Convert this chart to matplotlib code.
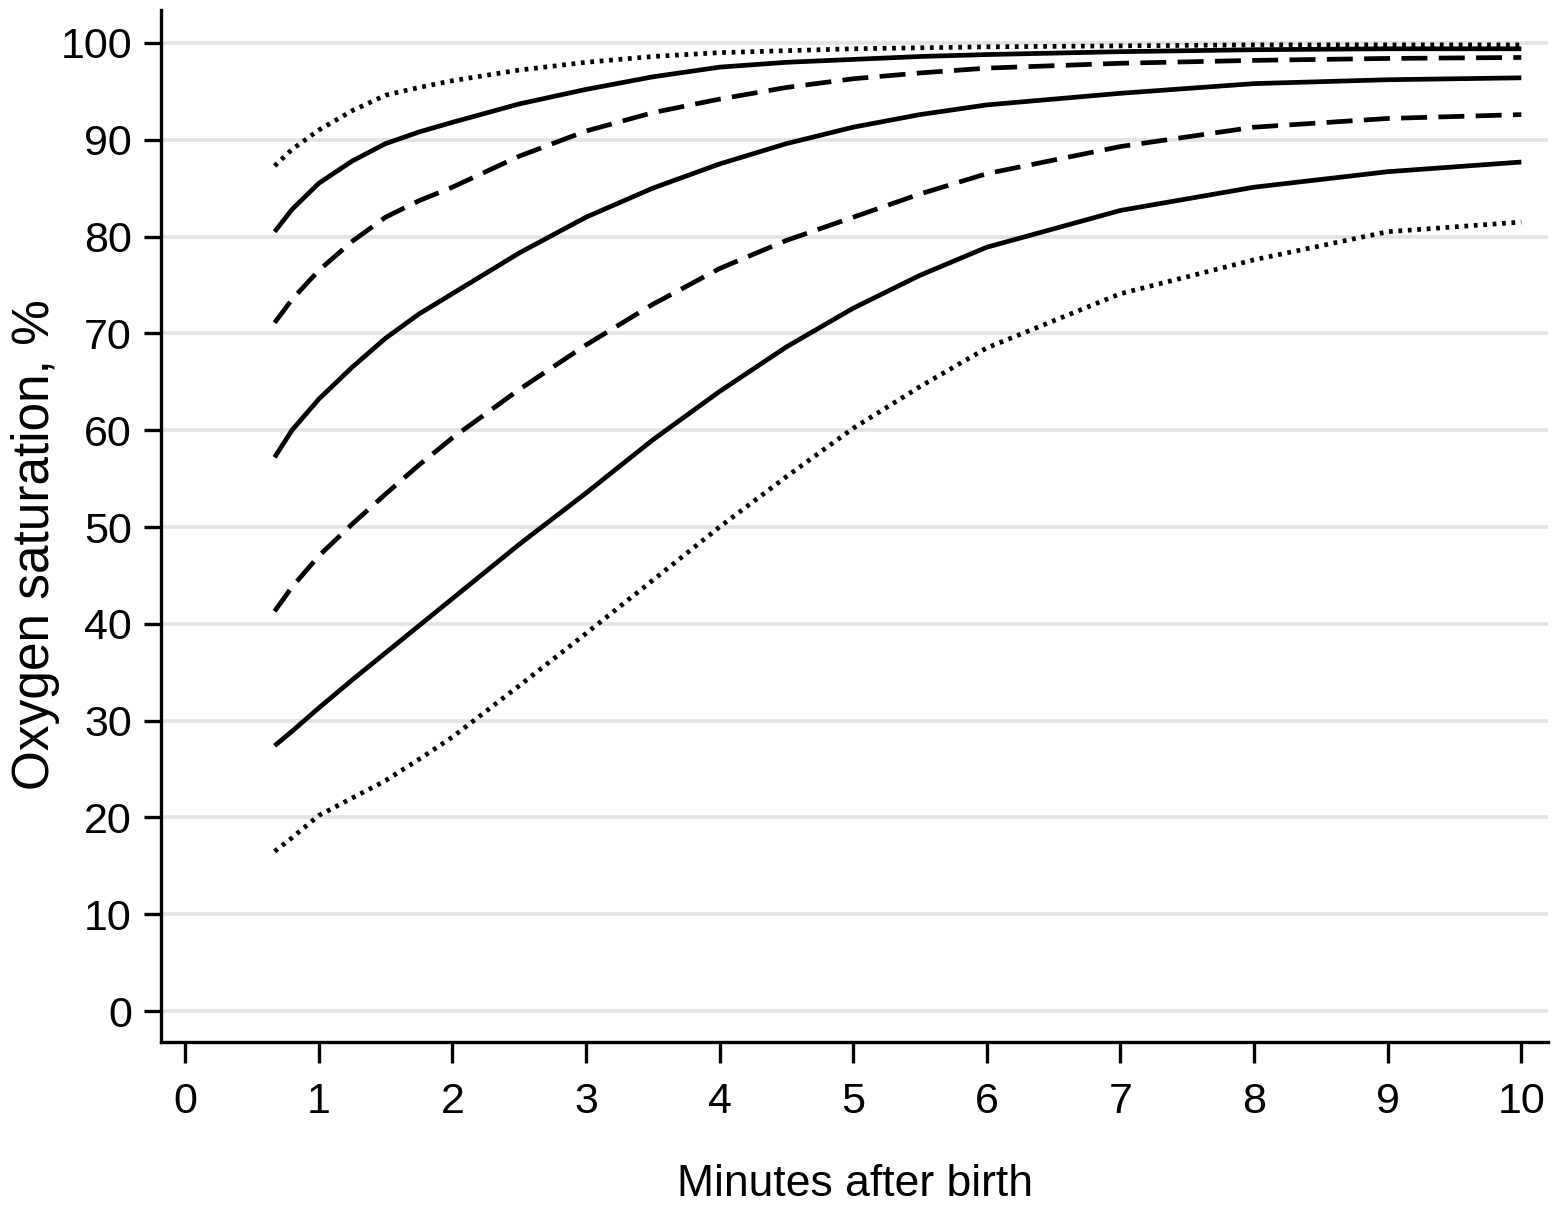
import matplotlib
matplotlib.use("Agg")
import matplotlib.pyplot as plt
import numpy as np

plt.rcParams["font.family"] = ["Liberation Sans Narrow", "Liberation Sans", "DejaVu Sans"]

minutes = [0.67, 0.8, 1, 1.25, 1.5, 1.75, 2, 2.5, 3, 3.5, 4, 4.5, 5, 5.5, 6, 7, 8, 9, 10]

# SpO2 centile curves (%)
p97 = [87.3, 89.0, 91.0, 93.0, 94.6, 95.4, 96.1, 97.2, 98.0, 98.6, 99.0, 99.2,
       99.4, 99.5, 99.6, 99.7, 99.8, 99.8, 99.8]
p90 = [80.5, 82.8, 85.5, 87.8, 89.6, 90.8, 91.8, 93.7, 95.2, 96.5, 97.5, 98.0,
       98.3, 98.6, 98.8, 99.1, 99.3, 99.4, 99.4]
p75 = [71.1, 73.5, 76.5, 79.5, 82.0, 83.7, 85.1, 88.3, 90.9, 92.8, 94.2, 95.4,
       96.3, 96.9, 97.4, 97.9, 98.2, 98.4, 98.5]
p50 = [57.2, 60.0, 63.2, 66.5, 69.5, 72.0, 74.1, 78.3, 82.0, 85.0, 87.5, 89.6,
       91.3, 92.6, 93.6, 94.8, 95.8, 96.2, 96.4]
p25 = [41.3, 43.8, 47.0, 50.3, 53.4, 56.4, 59.2, 64.2, 68.8, 73.0, 76.7, 79.6,
       82.0, 84.4, 86.5, 89.3, 91.3, 92.2, 92.6]
p10 = [27.4, 28.9, 31.3, 34.2, 37.0, 39.8, 42.6, 48.2, 53.5, 59.0, 64.0, 68.6,
       72.6, 76.0, 78.9, 82.7, 85.1, 86.7, 87.7]
p3 = [16.5, 17.9, 20.2, 22.0, 23.8, 26.0, 28.3, 33.6, 39.0, 44.5, 50.0, 55.2,
      60.2, 64.5, 68.5, 74.1, 77.6, 80.5, 81.5]

x_ticks = list(range(0, 11))
y_ticks = list(range(0, 101, 10))

DOT = (0, (0.8, 1.2))
DASH = (0, (5.5, 2.4))
styles = [
    (p97, DOT), (p90, "-"), (p75, DASH), (p50, "-"),
    (p25, DASH), (p10, "-"), (p3, DOT),
]

fig = plt.figure(figsize=(15.53, 12.09), dpi=100)
ax = fig.add_axes([0.1037, 0.1381, 0.8931, 0.8536])

for y in y_ticks:
    ax.axhline(y, color="#e3e3e3", lw=2.6, zorder=0)

t = np.asarray(minutes)
for vals, ls in styles:
    ax.plot(t, vals, color="black", lw=3.4, ls=ls,
            solid_capstyle="butt", dash_capstyle="butt")

ax.set_xlim(-0.18, 10.2)
ax.set_ylim(-3.2, 103.4)
ax.set_xticks(x_ticks)
ax.set_yticks(y_ticks)

for s in ("top", "right"):
    ax.spines[s].set_visible(False)
for s in ("left", "bottom"):
    ax.spines[s].set_linewidth(2.4)

ax.tick_params(axis="y", direction="out", length=12, width=2.4,
               labelsize=31, pad=9)
ax.tick_params(axis="x", direction="out", length=15, width=2.4,
               labelsize=31, pad=14)

ax.set_xlabel("Minutes after birth", fontsize=32, labelpad=30)
ax.set_ylabel("Oxygen saturation, %", fontsize=37)
ax.yaxis.set_label_coords(-0.073, 0.482)

fig.savefig("out.png", dpi=100)
